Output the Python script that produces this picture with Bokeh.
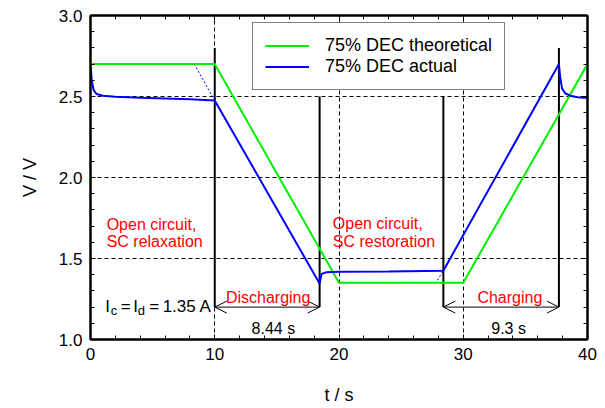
from bokeh.plotting import figure
from bokeh.models import (Legend, LegendItem, Arrow, OpenHead, Label,
                          SingleIntervalTicker, PrintfTickFormatter, LinearAxis,
                          CustomJSTickFormatter)
from bokeh.embed import file_html
from bokeh.resources import INLINE

FONT = "Liberation Sans"

# theoretical 75% DEC voltage profile
t_theory = [0, 10, 20, 30, 40]
v_theory = [2.70, 2.70, 1.35, 1.35, 2.70]

# measured 75% DEC voltage profile
t_actual = [0, 0.1, 0.25, 0.5, 1.0, 2, 4, 6, 8, 10, 18.44, 18.6, 19.0, 20, 24,
            28.4, 37.7, 37.8, 37.95, 38.2, 38.6, 39.2, 40]
v_actual = [2.70, 2.60, 2.54, 2.515, 2.505, 2.498, 2.492, 2.488, 2.483, 2.475,
            1.345, 1.405, 1.415, 1.418, 1.42, 1.425, 2.70, 2.62, 2.55, 2.52,
            2.505, 2.495, 2.49]

# linear extrapolations of the measured ramps
t_extrap_dis = [8.35, 10]
v_extrap_dis = [2.70, 2.475]
t_extrap_chg = [27.75, 28.4]
v_extrap_chg = [1.345, 1.425]

# switching instants and marker heights
t_switch = [10, 18.44, 28.4, 37.7]
v_switch_top = [2.8, 2.5, 2.5, 2.8]
v_switch_bottom = 1.2

dur_discharge = 8.44
dur_charge = 9.3
current = 1.35

GREEN = "#00f000"
BLUE = "#0000ff"
RED = "#ff0000"

p = figure(width=605, height=408, x_range=(0, 40), y_range=(1.0, 3.0),
           output_backend="svg", toolbar_location=None,
           min_border_left=90, min_border_right=18, min_border_top=15,
           min_border_bottom=69, background_fill_color="white",
           border_fill_color="white")
p.outline_line_color = "black"
p.outline_line_width = 2

xt = SingleIntervalTicker(interval=10, num_minor_ticks=5)
yt = SingleIntervalTicker(interval=0.5, num_minor_ticks=5)

bottom = p.below[0]
left = p.left[0]
bottom.ticker = xt
left.ticker = yt
left.formatter = PrintfTickFormatter(format="%.1f")

# tick-only axes on the top and right edges
blank = CustomJSTickFormatter(code="return ''")
top = LinearAxis(ticker=xt, formatter=blank)
right = LinearAxis(ticker=yt, formatter=blank)
p.add_layout(top, "above")
p.add_layout(right, "right")

for ax in (bottom, left, top, right):
    ax.axis_line_color = "black"
    ax.axis_line_width = 2
    ax.major_tick_in = 5
    ax.major_tick_out = 0
    ax.minor_tick_in = 4
    ax.minor_tick_out = 0
    ax.major_tick_line_color = "black"
    ax.minor_tick_line_color = "black"
    ax.major_label_text_font = FONT
    ax.major_label_text_font_size = "17px"
    ax.major_label_text_color = "black"
    ax.major_label_standoff = 8
    ax.axis_label_text_font = FONT
    ax.axis_label_text_font_size = "18px"
    ax.axis_label_text_font_style = "normal"
    ax.axis_label_text_color = "black"

for ax in (top, right):
    ax.major_label_text_font_size = "1px"
    ax.major_label_standoff = 0

bottom.axis_label = "t / s"
bottom.axis_label_standoff = 22
left.axis_label = "V / V"
left.axis_label_standoff = 16

p.xgrid.ticker = xt
p.ygrid.ticker = yt
for g in (p.xgrid, p.ygrid):
    g.grid_line_color = "black"
    g.grid_line_dash = "4 3"
    g.grid_line_width = 1

# switching markers
for ts, tp in zip(t_switch, v_switch_top):
    p.line([ts, ts], [v_switch_bottom, tp], line_color="black", line_width=2)

# extrapolated ramps
p.line(t_extrap_dis, v_extrap_dis, line_color=BLUE, line_width=1, line_dash="2 2")
p.line(t_extrap_chg, v_extrap_chg, line_color=BLUE, line_width=1, line_dash="2 2")

r_theory = p.line(t_theory, v_theory, line_color=GREEN, line_width=2)
r_actual = p.line(t_actual, v_actual, line_color=BLUE, line_width=2)

# duration arrows
for t0, dur in ((t_switch[0], dur_discharge), (t_switch[2], dur_charge)):
    p.add_layout(Arrow(start=OpenHead(size=12, line_width=1),
                       end=OpenHead(size=12, line_width=1),
                       x_start=t0, y_start=v_switch_bottom,
                       x_end=t0 + dur, y_end=v_switch_bottom,
                       line_width=1, line_color="black"))


def label(x, y, text, color="black", size="16px", align="left", dx=0, dy=0):
    p.add_layout(Label(x=x, y=y, text=text, x_offset=dx, y_offset=dy,
                       text_font=FONT, text_font_size=size, text_color=color,
                       text_align=align, text_baseline="alphabetic"))


label(1.3, 1.71, "Open circuit,", RED)
label(1.3, 1.602, "SC relaxation", RED)
label(19.5, 1.715, "Open circuit,", RED)
label(19.5, 1.607, "SC restoration", RED)
label(14.3, 1.26, "Discharging", RED, align="center")
label(33.75, 1.26, "Charging", RED, align="center")
label(t_switch[0] + dur_discharge / 2 + 0.5, 1.068, f"{dur_discharge} s", align="center")
label(t_switch[2] + dur_charge / 2 + 0.6, 1.068, f"{dur_charge} s", align="center")

# I_c = I_d = 1.35 A with subscripts
label(1.3, 1.204, "I", size="17px", dx=-1.5)
label(1.3, 1.204, "c", size="13px", dx=4, dy=-4)
label(1.3, 1.204, "=", size="17px", dx=14)
label(1.3, 1.204, "I", size="17px", dx=26.5)
label(1.3, 1.204, "d", size="13px", dx=31, dy=-4)
label(1.3, 1.204, "=", size="17px", dx=42.5)
label(1.3, 1.204, f"{current} A", size="17px", dx=56)

legend = Legend(items=[LegendItem(label="75% DEC theoretical", renderers=[r_theory]),
                       LegendItem(label="75% DEC actual", renderers=[r_actual])],
                location=(162, 249), orientation="vertical",
                label_text_font=FONT, label_text_font_size="18px",
                label_text_color="black", glyph_width=44, glyph_height=21,
                label_height=21, label_standoff=16, spacing=0, padding=12,
                margin=0, border_line_color="black", border_line_width=1,
                background_fill_color="white", background_fill_alpha=1.0)
p.add_layout(legend)

open("out.html", "w").write(file_html(p, INLINE))
